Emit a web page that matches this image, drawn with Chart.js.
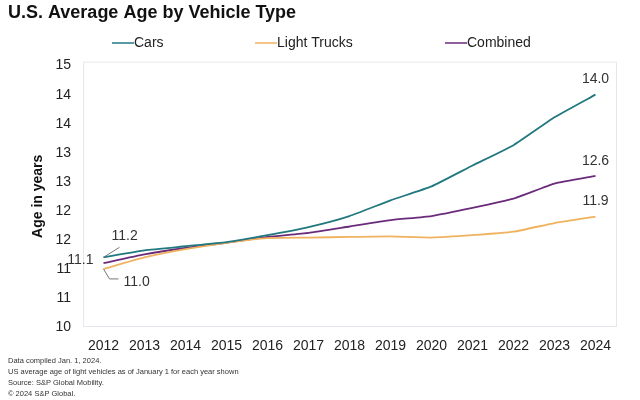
<!DOCTYPE html>
<html>
<head>
<meta charset="utf-8">
<script src="https://cdn.jsdelivr.net/npm/chart.js@4/dist/chart.umd.min.js"></script>
<style>
html, body { margin: 0; padding: 0; background: #fff; }
#wrap { width: 640px; height: 400px; }
</style>
</head>
<body>
<div id="wrap"><canvas id="lineGraph"></canvas></div>
<script>
var years = ["2012", "2013", "2014", "2015", "2016", "2017", "2018", "2019", "2020", "2021", "2022", "2023", "2024"];
var cars = [11.2, 11.32, 11.39, 11.46, 11.58, 11.72, 11.91, 12.18, 12.42, 12.78, 13.13, 13.61, 14.0];
var lightTrucks = [11.0, 11.2, 11.34, 11.45, 11.53, 11.54, 11.55, 11.56, 11.54, 11.58, 11.64, 11.79, 11.9];
var combined = [11.1, 11.25, 11.36, 11.45, 11.55, 11.62, 11.73, 11.84, 11.91, 12.05, 12.21, 12.47, 12.6];
var yMin = 10, yMax = 14.5, yStep = 0.5;
var footnotes = [
    "Data compiled Jan. 1, 2024.",
    "US average age of light vehicles as of January 1 for each year shown",
    "Source: S&P Global Mobility.",
    "\u00a9 2024 S&P Global."
];

var FONT = "'Liberation Sans', Arial, sans-serif";

// frame round the plot
var frame = {
    id: 'frame',
    beforeDatasetsDraw: function(chart) {
        var a = chart.chartArea, ctx = chart.ctx;
        ctx.save();
        ctx.strokeStyle = "#e4e8ec";
        ctx.lineWidth = 1;
        ctx.strokeRect(a.left + 0.5, a.top - 3.5, a.right - a.left, a.bottom - a.top + 3);
        ctx.restore();
    }
};

// legend drawn by hand so spacing can match
var legendXs = [112, 255, 445];
var handLegend = {
    id: 'handLegend',
    afterDraw: function(chart) {
        var ctx = chart.ctx;
        ctx.save();
        ctx.font = "14px " + FONT;
        ctx.textBaseline = "middle";
        chart.data.datasets.forEach(function(ds, i) {
            var x = legendXs[i], y = 43;
            ctx.strokeStyle = ds.borderColor;
            ctx.lineWidth = 1.5;
            ctx.beginPath();
            ctx.moveTo(x, y);
            ctx.lineTo(x + 22, y);
            ctx.stroke();
            ctx.fillStyle = "#222";
            ctx.fillText(ds.label, x + 22, y);
        });
        ctx.restore();
    }
};

// value labels at the ends of the lines
var endLabels = [
    {ds: 0, i: 12, dx: 0, dy: -16, align: "center"},
    {ds: 2, i: 12, dx: 0, dy: -15, align: "center"},
    {ds: 1, i: 12, dx: 0, dy: -15, align: "center"},
    {ds: 0, i: 0, dx: 8, dy: -21, align: "left", lead: [[0, 0], [16, -10]]},
    {ds: 1, i: 0, dx: 20, dy: 13, align: "left", lead: [[0, 0], [6, 10], [15, 10]]},
    {ds: 2, i: 0, dx: -10, dy: -3, align: "right"}
];
var valueLabels = {
    id: 'valueLabels',
    afterDatasetsDraw: function(chart) {
        var ctx = chart.ctx;
        ctx.save();
        ctx.font = "14px " + FONT;
        ctx.fillStyle = "#333";
        ctx.textBaseline = "middle";
        endLabels.forEach(function(l) {
            var pt = chart.getDatasetMeta(l.ds).data[l.i];
            var v = chart.data.datasets[l.ds].data[l.i];
            if (l.lead) {
                ctx.strokeStyle = "#777";
                ctx.lineWidth = 1;
                ctx.beginPath();
                l.lead.forEach(function(p, k) {
                    if (k === 0) ctx.moveTo(pt.x + p[0], pt.y + p[1]);
                    else ctx.lineTo(pt.x + p[0], pt.y + p[1]);
                });
                ctx.stroke();
            }
            ctx.textAlign = l.align;
            ctx.fillText(v.toFixed(1), pt.x + l.dx, pt.y + l.dy);
        });
        ctx.restore();
    }
};

function makeAgeChart() {
    var ctx = document.getElementById("lineGraph").getContext("2d");
    return new Chart(ctx, {
        type: 'line',
        data: {
            labels: years,
            datasets: [
                {label: "Cars", data: cars, borderColor: "#21787f"},
                {label: "Light Trucks", data: lightTrucks, borderColor: "#f1b25f"},
                {label: "Combined", data: combined, borderColor: "#6b2b7b"}
            ]
        },
        options: {
            responsive: true,
            maintainAspectRatio: false,
            animation: false,
            layout: {padding: {left: 8, right: 24, top: 2, bottom: 0}},
            elements: {
                line: {borderWidth: 1.8, tension: 0.15, fill: false},
                point: {radius: 0}
            },
            plugins: {
                legend: {display: false},
                tooltip: {enabled: false},
                title: {
                    display: true,
                    text: "U.S. Average Age by Vehicle Type",
                    align: "start",
                    color: "#111",
                    font: {family: FONT, size: 18, weight: "bold"},
                    padding: {top: 0, bottom: 42}
                },
                subtitle: {
                    display: true,
                    position: "bottom",
                    align: "start",
                    text: footnotes,
                    color: "#333",
                    font: {family: FONT, size: 7.5, lineHeight: 1.5},
                    padding: {top: 0, bottom: 0}
                }
            },
            scales: {
                x: {
                    offset: true,
                    grid: {display: false},
                    border: {display: false},
                    ticks: {color: "#222", font: {family: FONT, size: 14}, padding: 3, maxRotation: 0, autoSkip: false},
                    afterFit: function(s) { s.height = 28; }
                },
                y: {
                    min: yMin,
                    max: yMax,
                    grid: {display: false},
                    border: {display: false},
                    ticks: {
                        stepSize: yStep,
                        color: "#222",
                        padding: 4,
                        font: {family: FONT, size: 14},
                        callback: function(v) { return Math.round(v); }
                    },
                    title: {
                        display: true,
                        text: "Age in years",
                        color: "#111",
                        font: {family: FONT, size: 14, weight: "bold"},
                        padding: {top: 22, bottom: 0}
                    },
                    afterFit: function(s) { s.width = 75; }
                }
            }
        },
        plugins: [frame, handLegend, valueLabels]
    });
}

makeAgeChart();
</script>
</body>
</html>
